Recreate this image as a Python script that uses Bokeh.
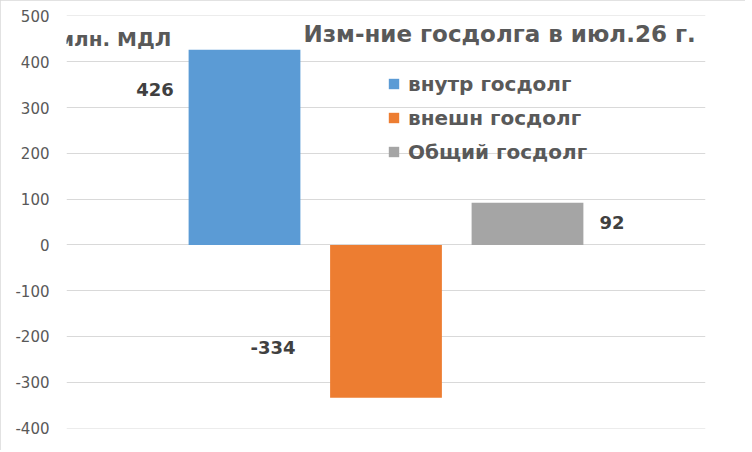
import numpy as np
from bokeh.plotting import figure
from bokeh.models import Range1d, Label, Legend, LegendItem, ColumnDataSource, SingleIntervalTicker, CustomJSTickFormatter
from bokeh.core.properties import value
from bokeh.embed import file_html
from bokeh.resources import INLINE

series = ["внутр госдолг", "внешн госдолг", "Общий госдолг"]
values = [426, -334, 92]
colors = ["#5B9BD5", "#ED7D31", "#A5A5A5"]
title_text = "Изм-ние госдолга в июл.26 г."
unit_text = "млн. МДЛ"

FONT = "DejaVu Sans"
GREY = "#595959"

p = figure(width=745, height=450, output_backend="svg", toolbar_location=None,
           x_range=Range1d(-1.258, 3.258), y_range=Range1d(-401, 501),
           min_border_left=66, min_border_top=15, min_border_bottom=22, min_border_right=40)
p.styles = {"outline": "2px solid #d9d9d9", "outline-offset": "-2px"}
p.outline_line_color = None
p.xaxis.visible = False
p.xgrid.visible = False
p.ygrid.grid_line_color = "#d9d9d9"
p.ygrid.grid_line_width = 1
p.yaxis.ticker = SingleIntervalTicker(interval=100)
p.yaxis.formatter = CustomJSTickFormatter(code="return tick.toFixed(0);")
p.yaxis.axis_line_color = None
p.yaxis.major_tick_line_color = None
p.yaxis.minor_tick_line_color = None
p.yaxis.major_label_text_font = FONT
p.yaxis.major_label_text_font_size = "15px"
p.yaxis.major_label_text_color = GREY
p.yaxis.major_label_standoff = 11

xs = np.arange(len(series))
items = []
offsets = [(-89.5, 40), (-113, -50.5), (84.5, 20)]
for i, (name, v, c) in enumerate(zip(series, values, colors)):
    src = ColumnDataSource(dict(x=[xs[i]], top=[v], lbl=[str(v)]))
    r = p.vbar(x="x", top="top", bottom=0, width=0.79, source=src, fill_color=c, line_color=None)
    items.append(LegendItem(label=name, renderers=[r]))
    dx, dy = offsets[i]
    p.text(x="x", y="top", text="lbl", source=src, x_offset=dx, y_offset=dy,
           text_align="center", text_baseline="middle", text_font=value(FONT),
           text_font_size="18px", text_font_style="bold", text_color="#404040")

legend = Legend(items=items, location=(321, 264), orientation="vertical")
legend.glyph_width = 13
legend.glyph_height = 13
legend.label_standoff = 8
legend.label_height = 25
legend.padding = 0
legend.margin = 0
legend.spacing = 9
legend.border_line_color = None
legend.background_fill_alpha = 0
legend.label_text_font = FONT
legend.label_text_font_size = "20px"
legend.label_text_font_style = "bold"
legend.label_text_color = GREY
p.add_layout(legend)

p.add_layout(Label(x=0.417, y=461, text=title_text, text_font=FONT, text_font_size="23px",
                   text_font_style="bold", text_color=GREY, text_baseline="middle"))
p.add_layout(Label(x=-1.320, y=450, text=unit_text, text_font=FONT, text_font_size="20px",
                   text_font_style="bold", text_color=GREY, text_baseline="middle"))

open("out.html", "w").write(file_html(p, INLINE))
